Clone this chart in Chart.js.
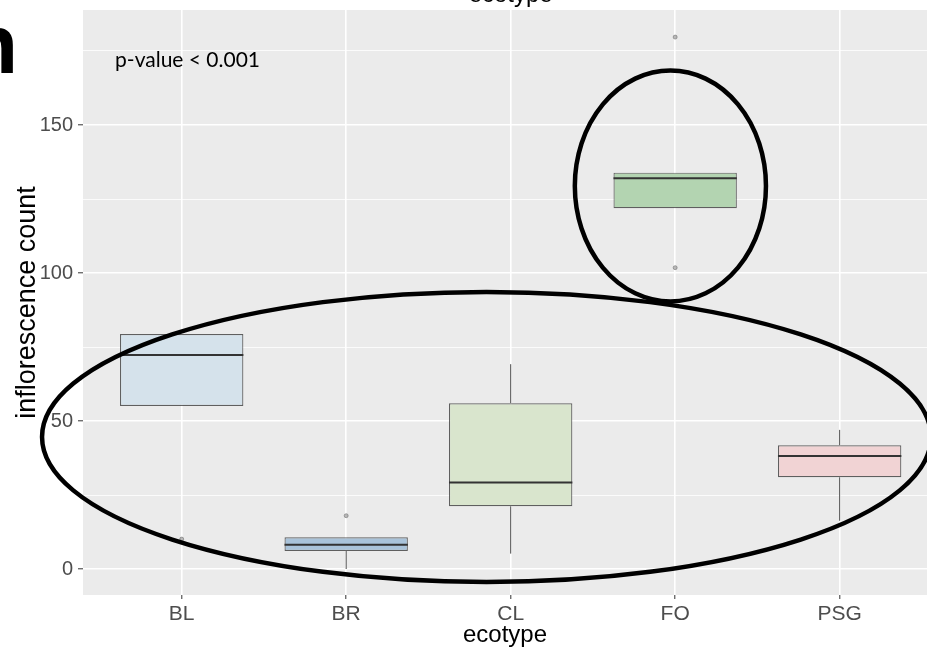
<!DOCTYPE html>
<html>
<head>
<meta charset="utf-8">
<script src="https://cdn.jsdelivr.net/npm/chart.js@4.4.1/dist/chart.umd.min.js"></script>
<style>
  html, body { margin: 0; padding: 0; background: #fff; overflow: hidden; }
  canvas { display: block; }
</style>
</head>
<body>
<canvas id="box-chart" width="927" height="653"></canvas>
<script>
// ecotype boxplot data
const categories = ["BL", "BR", "CL", "FO", "PSG"];
const lowerWhisker = [55.1, 0, 5.2, 121.9, 16.3];
const q1 = [55.1, 6.1, 21.2, 121.9, 31];
const median = [72.3, 8.2, 29.2, 132, 38.2];
const q3 = [79.4, 10.7, 56, 133.9, 41.8];
const upperWhisker = [79.4, 10.7, 69.2, 133.9, 47];
const outliers = [[10.1], [18], [], [179.7, 101.8], []];
const majorTicks = [0, 50, 100, 150];
const minorTicks = [25, 75, 125, 175];
const boxColors = ["#d5e2eb", "#a9c3da", "#d9e5cd", "#b3d4b1", "#f1d3d4"];

const pLabel = "p-value < 0.001";
// hand drawn rings, in data units
const rings = [
  { cx: 1.853, cy: 44.6, rx: 2.702, ry: 49.0 },
  { cx: 2.971, cy: 129.4, rx: 0.581, ry: 39.0 }
];

const boxData = categories.map((c, i) => ({ x: i, y: [q1[i], q3[i]] }));

const whiskerData = [];
categories.forEach((c, i) => {
  if (lowerWhisker[i] < q1[i]) {
    whiskerData.push({ x: i, y: lowerWhisker[i] }, { x: i, y: q1[i] }, { x: i, y: null });
  }
  if (upperWhisker[i] > q3[i]) {
    whiskerData.push({ x: i, y: q3[i] }, { x: i, y: upperWhisker[i] }, { x: i, y: null });
  }
});

const medianData = [];
categories.forEach((c, i) => {
  medianData.push({ x: i - 0.375, y: median[i] }, { x: i + 0.375, y: median[i] }, { x: i, y: null });
});

const outlierData = [];
outliers.forEach((list, i) => list.forEach(v => outlierData.push({ x: i, y: v })));

const annotate = {
  id: "annotate",
  afterDatasetsDraw(chart) {
    const { ctx, scales: { x, y } } = chart;
    ctx.save();
    ctx.lineWidth = 4.5;
    ctx.strokeStyle = "#000";
    rings.forEach(r => {
      const cx = x.getPixelForValue(r.cx);
      const cy = y.getPixelForValue(r.cy);
      const rx = x.getPixelForValue(r.cx + r.rx) - cx;
      const ry = cy - y.getPixelForValue(r.cy + r.ry);
      ctx.beginPath();
      ctx.ellipse(cx, cy, rx, ry, 0, 0, Math.PI * 2);
      ctx.stroke();
    });

    ctx.fillStyle = "#000";
    ctx.font = "21px Lato";
    ctx.textAlign = "left";
    ctx.textBaseline = "middle";
    ctx.fillText(pLabel, x.getPixelForValue(-0.405), y.getPixelForValue(172));

    // title is cut off at the top of the figure
    ctx.font = "24px 'Liberation Sans'";
    ctx.textAlign = "center";
    ctx.textBaseline = "alphabetic";
    ctx.fillText("ecotype", x.getPixelForValue(2), 2);

    // panel letter, mostly cropped away
    ctx.font = "bold 84px 'Liberation Sans'";
    ctx.textAlign = "right";
    ctx.fillText("n", 18, 73);
    ctx.restore();
  }
};

new Chart(document.getElementById("box-chart"), {
  type: "bar",
  data: {
    datasets: [
      {
        type: "scatter",
        data: outlierData,
        pointRadius: 2,
        backgroundColor: "rgba(140,140,140,0.6)",
        borderColor: "rgba(110,110,110,0.7)",
        borderWidth: 0.8,
        order: 0
      },
      {
        type: "line",
        data: medianData,
        borderColor: "#333333",
        borderWidth: 2,
        pointRadius: 0,
        spanGaps: false,
        order: 1
      },
      {
        type: "line",
        data: whiskerData,
        borderColor: "#4d4d4d",
        borderWidth: 1,
        pointRadius: 0,
        spanGaps: false,
        order: 2
      },
      {
        type: "bar",
        data: boxData,
        backgroundColor: boxColors,
        borderColor: "rgba(60,60,60,0.8)",
        borderWidth: 1.2,
        borderSkipped: false,
        categoryPercentage: 1,
        barPercentage: 0.75,
        order: 3
      }
    ]
  },
  options: {
    responsive: false,
    animation: false,
    devicePixelRatio: 1,
    layout: { autoPadding: false, padding: { top: 10, right: 0, bottom: 0, left: 0 } },
    plugins: {
      legend: { display: false },
      tooltip: { enabled: false }
    },
    scales: {
      x: {
        type: "linear",
        min: -0.6,
        max: 4.531,
        offset: false,
        afterBuildTicks: scale => {
          scale.ticks = categories.map((c, i) => ({ value: i }));
        },
        afterFit: scale => {
          scale.height = 58;
          scale.paddingLeft = 0;
          scale.paddingRight = 0;
        },
        border: { display: false },
        grid: {
          offset: false,
          color: "#ffffff",
          lineWidth: 1.6,
          tickColor: "#333333",
          tickWidth: 1,
          tickLength: 4
        },
        ticks: {
          callback: v => categories[v],
          color: "#4d4d4d",
          padding: 3,
          maxRotation: 0,
          autoSkip: false,
          font: { family: "'Liberation Sans', Arial, sans-serif", size: 21 }
        },
        title: {
          display: true,
          text: "ecotype",
          color: "#000",
          padding: { top: 0, bottom: 3 },
          font: { family: "'Liberation Sans', Arial, sans-serif", size: 24 }
        }
      },
      y: {
        min: -8.78,
        max: 188.85,
        afterBuildTicks: scale => {
          scale.ticks = majorTicks.concat(minorTicks).sort((a, b) => a - b).map(v => ({ value: v }));
        },
        afterFit: scale => {
          scale.width = 83;
          scale.paddingTop = 0;
          scale.paddingBottom = 0;
        },
        border: { display: false },
        grid: {
          color: "#ffffff",
          lineWidth: ctx => (majorTicks.includes(ctx.tick.value) ? 1.6 : 0.8),
          tickColor: ctx => (majorTicks.includes(ctx.tick.value) ? "#333333" : "rgba(0,0,0,0)"),
          tickWidth: 1,
          tickLength: 5
        },
        ticks: {
          callback: v => (majorTicks.includes(v) ? String(v) : ""),
          color: "#4d4d4d",
          padding: 5,
          autoSkip: false,
          font: { family: "'Liberation Sans', Arial, sans-serif", size: 20 }
        },
        title: {
          display: true,
          text: "inflorescence count",
          color: "#000",
          padding: { top: 11, bottom: 0 },
          font: { family: "'Liberation Sans', Arial, sans-serif", size: 27 }
        }
      }
    }
  },
  plugins: [
    {
      id: "panelBg",
      beforeDraw(chart) {
        const { ctx, chartArea: a } = chart;
        ctx.save();
        ctx.fillStyle = "#ebebeb";
        ctx.fillRect(a.left, a.top, a.right - a.left, a.bottom - a.top);
        ctx.restore();
      }
    },
    annotate
  ]
});
</script>
</body>
</html>
